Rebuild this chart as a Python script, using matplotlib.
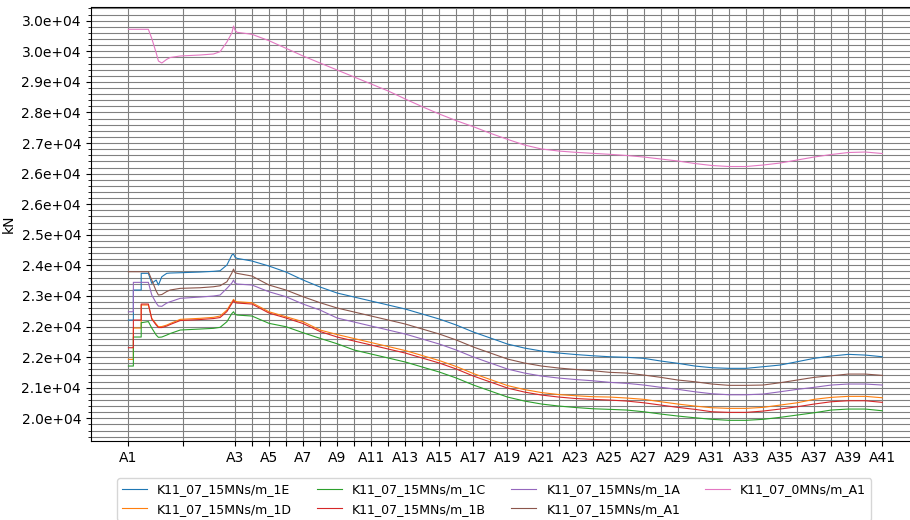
import matplotlib
matplotlib.use("Agg")
import matplotlib.pyplot as plt
from matplotlib.ticker import MultipleLocator, FormatStrFormatter
import numpy as np

# estacas A1..A41 (posicao ao longo do eixo)
estacas = ['A%d' % i for i in range(1, 42)]
pos_estacas = [0.0, 3.2] + [6.25 + k for k in range(39)]

# trecho inicial A1-A3 (pontos extras, saltos com x repetido)
x_inicio = [0.0, 0.29, 0.29, 0.75, 0.75, 1.17, 1.37, 1.63, 1.76, 1.96, 2.25,
            2.45, 3.04, 4.21, 4.99, 5.38, 5.78, 6.07, 6.17, 6.25, 6.37]

nomes = ['K11_07_15MNs/m_1E', 'K11_07_15MNs/m_1D', 'K11_07_15MNs/m_1C',
         'K11_07_15MNs/m_1B', 'K11_07_15MNs/m_1A', 'K11_07_15MNs/m_A1',
         'K11_07_0MNs/m_A1']

# forcas [kN]: trecho inicial + estacas A4..A41
f_1E = [22570, 22570, 23355, 23355, 23792, 23792, 23530, 23617, 23486, 23703, 23792,
        23800, 23808, 23826, 23844, 23860, 24009, 24271, 24297, 24218, 24184,
        24114, 23983, 23826, 23617, 23434, 23277, 23172, 23067, 22963, 22858,
        22727, 22596, 22439, 22256, 22099, 21942, 21837, 21759, 21707, 21668,
        21636, 21610, 21595, 21568, 21498, 21438, 21367, 21323, 21307, 21307,
        21349, 21393, 21480, 21568, 21628, 21673, 21654, 21610]
f_1D = [21542, 21542, 22361, 22361, 22963, 22963, 22615, 22466, 22395, 22400, 22439,
        22479, 22588, 22615, 22641, 22675, 22831, 23041, 23112, 23067, 23049,
        23023, 22787, 22657, 22526, 22309, 22191, 22086, 21981, 21877, 21772,
        21641, 21510, 21353, 21170, 21013, 20856, 20751, 20673, 20621, 20590,
        20565, 20556, 20530, 20496, 20433, 20373, 20320, 20276, 20260, 20260,
        20286, 20346, 20406, 20496, 20548, 20574, 20574, 20537]
f_1C = [21367, 21367, 22126, 22126, 22500, 22530, 22361, 22178, 22118, 22126, 22178,
        22217, 22309, 22335, 22353, 22379, 22526, 22740, 22787, 22727, 22701,
        22675, 22484, 22395, 22238, 22091, 21950, 21786, 21681, 21577, 21472,
        21341, 21210, 21053, 20870, 20713, 20556, 20451, 20373, 20321, 20282,
        20250, 20234, 20216, 20171, 20111, 20059, 20014, 19973, 19947, 19947,
        19973, 20025, 20085, 20145, 20216, 20242, 20242, 20197]
f_1B = [21846, 21846, 22570, 22570, 22989, 22989, 22596, 22439, 22374, 22374, 22413,
        22453, 22557, 22583, 22609, 22636, 22792, 23002, 23080, 23028, 23015,
        22989, 22753, 22623, 22479, 22270, 22126, 22021, 21916, 21812, 21707,
        21576, 21445, 21288, 21105, 20948, 20791, 20686, 20608, 20556, 20517,
        20495, 20477, 20451, 20406, 20346, 20286, 20234, 20171, 20155, 20155,
        20189, 20242, 20302, 20373, 20433, 20459, 20459, 20417]
f_1A = [22787, 22787, 23556, 23556, 23556, 23556, 23224, 23015, 22937, 22929, 23015,
        23049, 23138, 23172, 23198, 23224, 23399, 23538, 23617, 23538, 23512,
        23486, 23310, 23180, 22988, 22831, 22623, 22518, 22413, 22309, 22204,
        22073, 21942, 21785, 21602, 21445, 21288, 21183, 21105, 21053, 21014,
        20982, 20940, 20914, 20870, 20810, 20757, 20694, 20642, 20616, 20616,
        20634, 20694, 20757, 20810, 20870, 20896, 20896, 20870]
f_A1 = [23834, 23834, 23834, 23834, 23834, 23834, 23617, 23329, 23224, 23237, 23316,
        23355, 23399, 23415, 23441, 23467, 23572, 23800, 23904, 23813, 23792,
        23721, 23486, 23355, 23180, 23023, 22885, 22780, 22675, 22571, 22466,
        22335, 22204, 22047, 21864, 21707, 21550, 21445, 21367, 21315, 21276,
        21244, 21202, 21184, 21131, 21071, 21001, 20956, 20896, 20862, 20862,
        20870, 20930, 21001, 21071, 21113, 21157, 21157, 21123]
f_0A1 = [30175, 30175, 30175, 30175, 30175, 30175, 29937, 29558, 29346, 29293, 29390,
         29437, 29477, 29503, 29529, 29589, 29843, 30078, 30261, 30157, 30097,
         30044, 29877, 29678, 29477, 29293, 29110, 28927, 28744, 28561, 28352,
         28150, 27959, 27784, 27627, 27454, 27297, 27148, 27044, 26991, 26957,
         26931, 26905, 26874, 26834, 26782, 26730, 26664, 26612, 26586, 26586,
         26625, 26677, 26756, 26834, 26900, 26952, 26965, 26926]

x = np.array(x_inicio + pos_estacas[3:])
series = [f_1E, f_1D, f_1C, f_1B, f_1A, f_A1, f_0A1]

fig = plt.figure(figsize=(9.1, 5.2), dpi=100)
ax = fig.add_axes([0.0997, 0.1519, 0.9113, 0.8352])

for nome, f in zip(nomes, series):
    ax.plot(x, f, linewidth=0.8, label=nome)

ax.set_ylim(19406, 30766)
ax.yaxis.set_major_locator(MultipleLocator(800))
ax.yaxis.set_minor_locator(MultipleLocator(160))
ax.yaxis.set_major_formatter(FormatStrFormatter('%.1e'))
ax.set_ylabel('kN')

rotulos = [e if i % 2 == 0 else '' for i, e in enumerate(estacas)]
ax.set_xticks(pos_estacas)
ax.set_xticklabels(rotulos)

ax.grid(True, which='both', color='grey', linewidth=0.8)

fig.legend(loc='upper center', bbox_to_anchor=(0.543, 0.092), ncol=4,
           fontsize=9)

fig.savefig('out.png', dpi=100)
